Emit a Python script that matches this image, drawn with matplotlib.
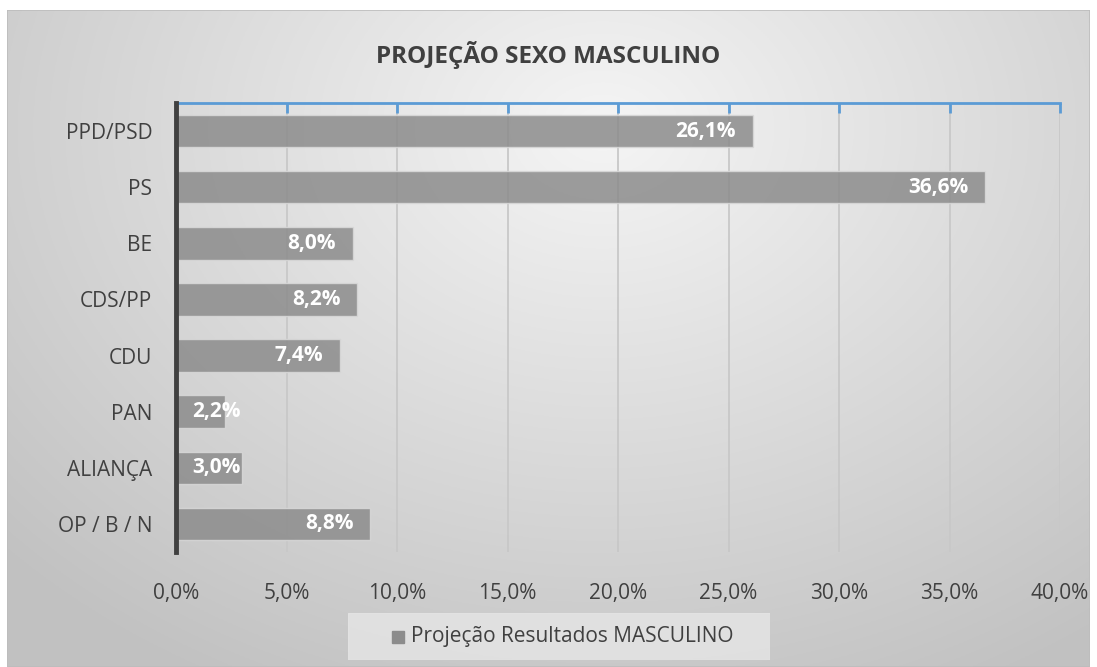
import numpy as np
import matplotlib; matplotlib.use("Agg")
import matplotlib.pyplot as plt
from matplotlib.patches import Rectangle

categories = ["PPD/PSD", "PS", "BE", "CDS/PP", "CDU", "PAN", "ALIANÇA", "OP / B / N"]
values = [26.1, 36.6, 8.0, 8.2, 7.4, 2.2, 3.0, 8.8]
labels = ["26,1%", "36,6%", "8,0%", "8,2%", "7,4%", "2,2%", "3,0%", "8,8%"]
xticks = [0, 5, 10, 15, 20, 25, 30, 35, 40]
xticklabels = ["0,0%", "5,0%", "10,0%", "15,0%", "20,0%", "25,0%", "30,0%", "35,0%", "40,0%"]

plt.rcParams["font.family"] = ["Open Sans", "DejaVu Sans"]
W, H = 1097, 667
fig = plt.figure(figsize=(W/100, H/100), dpi=100)

# chart-area background: radial grey gradient
bg = fig.add_axes([7/W, 0, 1-14/W, 1-10/H]); bg.set_axis_off()
yy, xx = np.mgrid[0:1:300j, 0:1:500j]
r = np.sqrt(((xx-0.55)/0.75)**2 + ((yy-0.18)/0.95)**2)
g = np.clip(0.96 - 0.2*r, 0.76, 0.96)
bg.imshow(np.dstack([g, g, g]), aspect="auto", extent=[0, 1, 0, 1], origin="upper")
bg.add_patch(Rectangle((0, 0), 1, 1, fill=False, ec="#bdbdbd", lw=1.2, transform=bg.transAxes))

ax = fig.add_axes([176/W, 1-552/H, (1060-176)/W, (552-103)/H])
ax.patch.set_alpha(0)
y = np.arange(len(categories))
ax.barh(y, values, height=0.58, color="#8c8c8c", alpha=0.85, edgecolor="#d9d9d9", lw=1, zorder=3)
ax.set_xlim(0, 40); ax.set_ylim(len(categories)-0.5, -0.5)
ax.set_xticks(xticks); ax.set_xticklabels(xticklabels)
ax.set_yticks(y); ax.set_yticklabels(categories)
ax.grid(axis="x", color="#c8c8c8", lw=1.3, zorder=1)
ax.tick_params(axis="x", top=True, bottom=False, labeltop=False, labelbottom=True,
               direction="in", length=7, width=2, color="#5b9bd5", labelsize=15,
               labelcolor="#404040", pad=22)
ax.tick_params(axis="y", length=0, labelsize=15, labelcolor="#404040", pad=17)
for s in ("right", "bottom"):
    ax.spines[s].set_visible(False)
ax.spines["top"].set_color("#5b9bd5"); ax.spines["top"].set_linewidth(2)
ax.spines["left"].set_color("#404040"); ax.spines["left"].set_linewidth(3.5)
ax.spines["left"].set_zorder(5)

for yi, v, t in zip(y, values, labels):
    if v < 4:
        ax.annotate(t, (0, yi), xytext=(12, 0), textcoords="offset points", ha="left",
                    va="center", color="white", fontsize=15, fontweight="bold", zorder=6)
    else:
        ax.annotate(t, (v, yi), xytext=(-12, 0), textcoords="offset points", ha="right",
                    va="center", color="white", fontsize=15, fontweight="bold", zorder=6)

fig.text(548/W, 1-55/H, "PROJEÇÃO SEXO MASCULINO", ha="center", va="center",
         fontsize=17.5, fontweight="bold", color="#404040")

# legend
lg = fig.add_axes([348/W, 1-660/H, (770-348)/W, 47/H]); lg.set_axis_off()
lg.add_patch(Rectangle((0, 0), 1, 1, color="#e6e6e6", alpha=0.8, transform=lg.transAxes))
lg.add_patch(Rectangle((44/422, 0.37), 12/422, 12/47, color="#8c8c8c", transform=lg.transAxes))
lg.text(63/422, 0.5, "Projeção Resultados MASCULINO", ha="left", va="center",
        fontsize=15, color="#404040", transform=lg.transAxes)

fig.savefig("out.png", dpi=100, facecolor="white")
